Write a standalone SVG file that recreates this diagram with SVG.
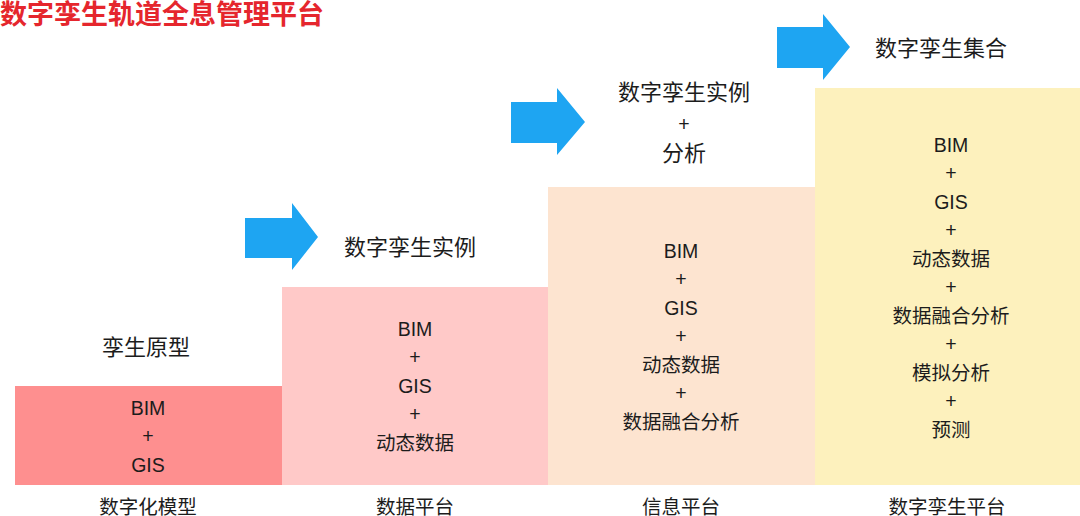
<svg xmlns="http://www.w3.org/2000/svg" width="1080" height="516" viewBox="0 0 1080 516">
<style>
text{font-family:"Liberation Sans","Noto Sans CJK SC",sans-serif;fill:#1c1c1c;text-anchor:middle}
.title{font-size:27px;fill:#e5262d;text-anchor:start;font-weight:bold}
.head{font-size:22px}
.item{font-size:19.5px}
.foot{font-size:19.5px}
.arrow{fill:#1ea5f2}
</style>
<rect width="1080" height="516" fill="#ffffff"/>
<text class="title" x="0" y="24">数字孪生轨道全息管理平台</text>
<g id="connectors">
<path class="arrow" d="M245,218 H292 V203 L318,237 L292,270 V258 H245 Z"/>
<path class="arrow" d="M511,102 H557 V88 L585,122 L557,155 V143 H511 Z"/>
<path class="arrow" d="M777,27 H823 V14 L850,47 L823,80 V68 H777 Z"/>
</g>
<g id="stage1">
<rect x="15" y="386" width="267" height="99" fill="#fe8f8f"/>
<text class="head" x="146" y="355">孪生原型</text>
<text class="item" x="148" y="415">BIM</text>
<text class="item" x="148" y="443">+</text>
<text class="item" x="148" y="472">GIS</text>
<text class="foot" x="148" y="514">数字化模型</text>
</g>
<g id="stage2">
<rect x="282" y="287" width="266" height="198" fill="#ffc9c8"/>
<text class="head" x="410" y="255">数字孪生实例</text>
<text class="item" x="415" y="336">BIM</text>
<text class="item" x="415" y="364">+</text>
<text class="item" x="415" y="393">GIS</text>
<text class="item" x="415" y="421">+</text>
<text class="item" x="415" y="450">动态数据</text>
<text class="foot" x="415" y="514">数据平台</text>
</g>
<g id="stage3">
<rect x="548" y="187" width="267" height="298" fill="#fde4d0"/>
<text class="head" x="684" y="100">数字孪生实例</text>
<text class="item" x="684" y="131">+</text>
<text class="head" x="684" y="161">分析</text>
<text class="item" x="681" y="258">BIM</text>
<text class="item" x="681" y="286">+</text>
<text class="item" x="681" y="315">GIS</text>
<text class="item" x="681" y="343">+</text>
<text class="item" x="681" y="372">动态数据</text>
<text class="item" x="681" y="400">+</text>
<text class="item" x="681" y="429">数据融合分析</text>
<text class="foot" x="681" y="514">信息平台</text>
</g>
<g id="stage4">
<rect x="815" y="88" width="265" height="397" fill="#fdf1bd"/>
<text class="head" x="941" y="56">数字孪生集合</text>
<text class="item" x="951" y="152">BIM</text>
<text class="item" x="951" y="180">+</text>
<text class="item" x="951" y="209">GIS</text>
<text class="item" x="951" y="237">+</text>
<text class="item" x="951" y="266">动态数据</text>
<text class="item" x="951" y="294">+</text>
<text class="item" x="951" y="323">数据融合分析</text>
<text class="item" x="951" y="351">+</text>
<text class="item" x="951" y="380">模拟分析</text>
<text class="item" x="951" y="408">+</text>
<text class="item" x="951" y="437">预测</text>
<text class="foot" x="947" y="514">数字孪生平台</text>
</g>
</svg>
